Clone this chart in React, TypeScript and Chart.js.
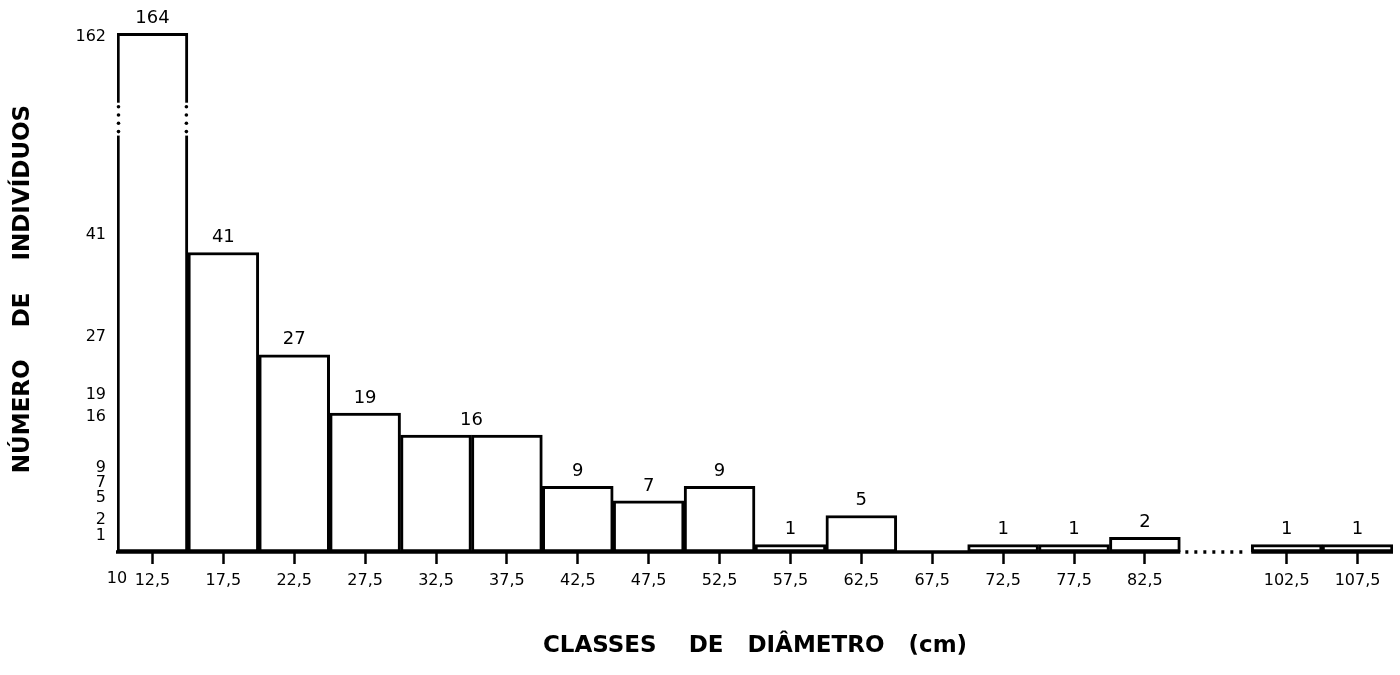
import React, { useEffect, useRef } from "react";
import { Chart, registerables } from "chart.js";

Chart.register(...registerables);

// ---- data ----
const classMidpoints = [12.5, 17.5, 22.5, 27.5, 32.5, 37.5, 42.5, 47.5, 52.5, 57.5, 62.5, 67.5, 72.5, 77.5, 82.5, 102.5, 107.5];
const classLabels = ["12,5", "17,5", "22,5", "27,5", "32,5", "37,5", "42,5", "47,5", "52,5", "57,5", "62,5", "67,5", "72,5", "77,5", "82,5", "102,5", "107,5"];
const counts = [164, 41, 27, 19, 16, 16, 9, 7, 9, 1, 5, 0, 1, 1, 2, 1, 1];
const yTickValues = [1, 2, 5, 7, 9, 16, 19, 27, 41, 162];
const xOrigin = 10;
const xOriginLabel = "10";
const classWidth = 5;
// bars 4 and 5 (32,5 and 37,5) share one value label, written at their common edge
const sharedLabelPairs = [[4, 5]];

const xTitle = "CLASSES    DE   DIÂMETRO   (cm)";
const yTitle = "NÚMERO    DE    INDIVÍDUOS";

// broken x axis: 85–100 cm squeezed into one class width
const xGap = { from: 85, to: 100 };
// broken y axis: values above 50 are drawn compressed near the top
const yGap = { below: 50, topValue: 164, topDisplay: 71, squeeze: 1.5, markFrom: 57, markTo: 61.5 };

const dx = (cm: number) =>
  cm <= xGap.from ? (cm - xOrigin) / classWidth : (cm - xOrigin - (xGap.to - xGap.from) + classWidth) / classWidth;
const dy = (v: number) => (v <= yGap.below ? v : yGap.topDisplay - (yGap.topValue - v) * yGap.squeeze);

const FONT = "'DejaVu Sans', sans-serif";

const decorPlugin = {
  id: "decor",
  afterDatasetsDraw(chart: any) {
    const { ctx } = chart;
    const xs = chart.scales.x;
    const ys = chart.scales.y;
    const base = ys.getPixelForValue(0);
    const meta = chart.getDatasetMeta(0);

    ctx.save();
    // broken first bar
    const b0 = meta.data[0];
    if (b0) {
      const y1 = ys.getPixelForValue(yGap.markTo);
      const y2 = ys.getPixelForValue(yGap.markFrom);
      const half = b0.width / 2;
      [b0.x - half + 1.5, b0.x + half - 1.5].forEach((ex: number) => {
        ctx.fillStyle = "#fff";
        ctx.fillRect(ex - 5, y1, 10, y2 - y1);
        ctx.fillStyle = "#000";
        for (let k = 0; k < 4; k++) {
          const yy = y1 + 4 + (k * (y2 - y1 - 8)) / 3;
          ctx.beginPath();
          ctx.arc(ex, yy, 1.8, 0, Math.PI * 2);
          ctx.fill();
        }
      });
    }

    // baseline (solid, dotted across the gap, solid)
    ctx.strokeStyle = "#000";
    ctx.lineWidth = 3.5;
    ctx.beginPath();
    ctx.moveTo(xs.getPixelForValue(0) - 1, base);
    ctx.lineTo(xs.getPixelForValue(dx(xGap.from)), base);
    ctx.stroke();
    ctx.beginPath();
    ctx.moveTo(xs.getPixelForValue(dx(xGap.to)), base);
    ctx.lineTo(xs.getPixelForValue(xs.max), base);
    ctx.stroke();
    ctx.setLineDash([3, 6]);
    ctx.beginPath();
    ctx.moveTo(xs.getPixelForValue(dx(xGap.from)) + 5, base);
    ctx.lineTo(xs.getPixelForValue(dx(xGap.to)) - 3, base);
    ctx.stroke();
    ctx.setLineDash([]);

    // origin label
    ctx.fillStyle = "#000";
    ctx.font = `16px ${FONT}`;
    ctx.textAlign = "center";
    ctx.textBaseline = "top";
    ctx.fillText(xOriginLabel, xs.getPixelForValue(0), xs.top + 19);

    // value labels above bars
    ctx.font = `18px ${FONT}`;
    ctx.textBaseline = "middle";
    meta.data.forEach((bar: any, i: number) => {
      const v = counts[i];
      if (!v) return;
      const pair = sharedLabelPairs.find((p) => p.includes(i));
      let x = bar.x;
      if (pair) {
        if (i !== pair[1]) return;
        x = bar.x - bar.width / 2;
      }
      ctx.fillText(String(v), x, bar.y - 15);
    });
    ctx.restore();
  },
};

export default function App() {
  const ref = useRef<HTMLCanvasElement>(null);

  useEffect(() => {
    if (!ref.current) return;
    const data = classMidpoints.map((m, i) => ({ x: dx(m), y: dy(counts[i]) }));
    const xTickPos = classMidpoints.map(dx);
    const chart = new Chart(ref.current, {
      type: "bar",
      data: {
        datasets: [
          {
            data,
            backgroundColor: "#fff",
            borderColor: "#000",
            borderWidth: 3,
            borderSkipped: false,
            barPercentage: 1,
            categoryPercentage: 1,
          },
        ],
      },
      plugins: [decorPlugin],
      options: {
        animation: false,
        responsive: false,
        layout: { padding: { top: 26, right: 7, left: 0, bottom: 0 } },
        plugins: { legend: { display: false }, tooltip: { enabled: false } },
        scales: {
          x: {
            type: "linear",
            min: 0,
            max: dx(110),
            offset: false,
            afterFit: (s: any) => {
              s.height = 123;
            },
            afterBuildTicks: (s: any) => {
              s.ticks = xTickPos.map((v) => ({ value: v }));
            },
            ticks: {
              autoSkip: false,
              maxRotation: 0,
              color: "#000",
              padding: 7,
              font: { family: FONT, size: 16 },
              callback: (value: any) => {
                const i = xTickPos.findIndex((p) => Math.abs(p - value) < 1e-6);
                return i >= 0 ? classLabels[i] : "";
              },
            },
            grid: {
              display: true,
              drawOnChartArea: false,
              drawTicks: true,
              tickLength: 12,
              tickWidth: 2.5,
              tickColor: "#000",
              offset: false,
            },
            border: { display: false },
            title: {
              display: true,
              text: xTitle,
              color: "#000",
              font: { family: FONT, size: 23, weight: "bold" },
              padding: { top: 0, bottom: 15 },
            },
          },
          y: {
            type: "linear",
            min: 0,
            max: 72,
            afterFit: (s: any) => {
              s.width = 117;
            },
            afterBuildTicks: (s: any) => {
              s.ticks = yTickValues.map((v) => ({ value: dy(v) }));
            },
            ticks: {
              autoSkip: false,
              color: "#000",
              padding: 11,
              labelOffset: -18,
              font: { family: FONT, size: 16 },
              callback: (value: any) => {
                const i = yTickValues.findIndex((v) => Math.abs(dy(v) - value) < 1e-6);
                if (i < 0) return "";
                const t = String(yTickValues[i]);
                return i === 0 ? ["", t] : t;
              },
            },
            grid: { display: false, drawTicks: false },
            border: { display: false },
            title: {
              display: true,
              text: yTitle,
              color: "#000",
              font: { family: FONT, size: 23, weight: "bold" },
              padding: { top: 9, bottom: 0 },
            },
          },
        },
      },
    } as any);
    return () => chart.destroy();
  }, []);

  return (
    <div style={{ position: "fixed", left: 0, top: 0, width: 1400, height: 675, background: "#fff" }}>
      <canvas ref={ref} width={1400} height={675} style={{ display: "block" }} />
    </div>
  );
}
